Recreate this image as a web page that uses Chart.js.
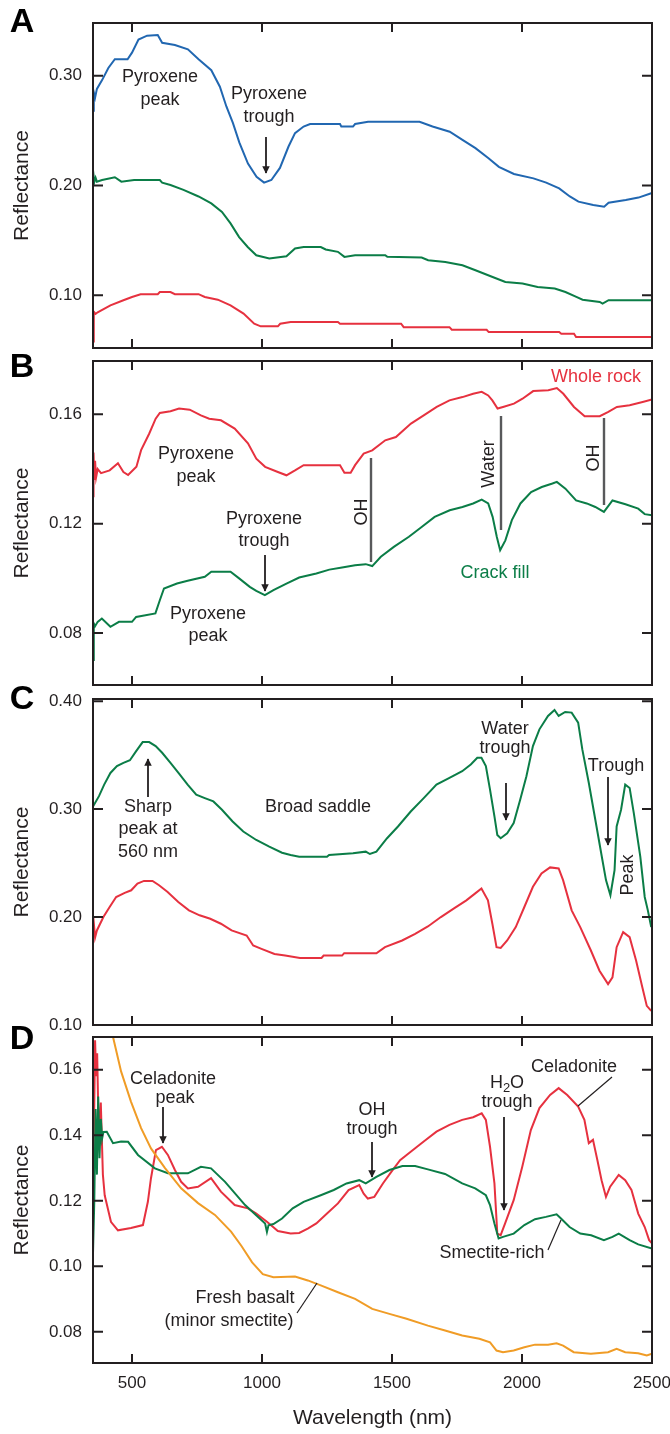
<!DOCTYPE html>
<html lang="en">
<head>
<meta charset="UTF-8">
<title>Reflectance spectra</title>
<script src="https://cdn.jsdelivr.net/npm/chart.js"></script>
<style>
  body { margin: 0; background: #fff; font-family: "Liberation Sans", Arial, sans-serif; }
  #wrap { position: relative; width: 670px; height: 1434px; overflow: hidden; }
  canvas { position: absolute; left: 0; }
  .lbl { position: absolute; transform: translate(-50%, -50%); font-size: 18px; color: #231f20; white-space: nowrap; line-height: 1; z-index: 5; }
  .rot { transform: translate(-50%, -50%) rotate(-90deg); }
  .letter { position: absolute; transform: translate(-50%, -50%); font-weight: bold; font-size: 34px; color: #000; line-height: 1; }
  sub { font-size: 13px; vertical-align: -4px; line-height: 0; }
  svg { position: absolute; left: 0; top: 0; z-index: 4; }
</style>
</head>
<body>
<div id="wrap">
  <canvas id="chartA" width="670" height="345" style="top:13px"></canvas>
  <canvas id="chartB" width="670" height="344" style="top:351px"></canvas>
  <canvas id="chartC" width="670" height="346" style="top:689px"></canvas>
  <canvas id="chartD" width="670" height="407" style="top:1027px"></canvas>

  <div class="letter" style="left:22px;top:20px">A</div>
  <div class="letter" style="left:22px;top:365px">B</div>
  <div class="letter" style="left:22px;top:697px">C</div>
  <div class="letter" style="left:22px;top:1037px">D</div>

  <!-- A -->
  <div class="lbl" style="left:160px;top:76px">Pyroxene</div>
  <div class="lbl" style="left:160px;top:99px">peak</div>
  <div class="lbl" style="left:269px;top:93px">Pyroxene</div>
  <div class="lbl" style="left:269px;top:116px">trough</div>
  <!-- B -->
  <div class="lbl" style="left:596px;top:376px;color:#e6313f">Whole rock</div>
  <div class="lbl" style="left:196px;top:453px">Pyroxene</div>
  <div class="lbl" style="left:196px;top:476px">peak</div>
  <div class="lbl" style="left:264px;top:518px">Pyroxene</div>
  <div class="lbl" style="left:264px;top:540px">trough</div>
  <div class="lbl" style="left:208px;top:613px">Pyroxene</div>
  <div class="lbl" style="left:208px;top:635px">peak</div>
  <div class="lbl rot" style="left:361px;top:512px">OH</div>
  <div class="lbl rot" style="left:488px;top:464px">Water</div>
  <div class="lbl rot" style="left:593px;top:458px">OH</div>
  <div class="lbl" style="left:495px;top:572px;color:#0b7d47">Crack fill</div>
  <!-- C -->
  <div class="lbl" style="left:148px;top:806px">Sharp</div>
  <div class="lbl" style="left:148px;top:828px">peak at</div>
  <div class="lbl" style="left:148px;top:851px">560 nm</div>
  <div class="lbl" style="left:318px;top:806px">Broad saddle</div>
  <div class="lbl" style="left:505px;top:728px">Water</div>
  <div class="lbl" style="left:505px;top:747px">trough</div>
  <div class="lbl" style="left:616px;top:765px">Trough</div>
  <div class="lbl rot" style="left:627px;top:875px">Peak</div>
  <!-- D -->
  <div class="lbl" style="left:173px;top:1078px">Celadonite</div>
  <div class="lbl" style="left:175px;top:1097px">peak</div>
  <div class="lbl" style="left:372px;top:1109px">OH</div>
  <div class="lbl" style="left:372px;top:1128px">trough</div>
  <div class="lbl" style="left:507px;top:1082px">H<sub>2</sub>O</div>
  <div class="lbl" style="left:507px;top:1101px">trough</div>
  <div class="lbl" style="left:574px;top:1066px">Celadonite</div>
  <div class="lbl" style="left:492px;top:1252px">Smectite-rich</div>
  <div class="lbl" style="left:245px;top:1297px">Fresh basalt</div>
  <div class="lbl" style="left:229px;top:1320px">(minor smectite)</div>

  <svg id="marks" width="670" height="1434"></svg>
</div>

<script>
  // ---- data (wavelength in nm, reflectance) ----
  const xTicks = [500, 1000, 1500, 2000, 2500];

  // panel A
  const aTicks = [0.10, 0.20, 0.30];
  const aBlueNm = [350, 353, 358, 365, 385, 409, 434, 483, 500, 525, 558, 599, 616, 665, 715, 756, 805, 838, 863, 888, 913, 946, 979, 1008, 1036, 1069, 1102, 1127, 1160, 1185, 1300, 1305, 1350, 1358, 1408, 1606, 1656, 1722, 1771, 1821, 1870, 1911, 1969, 2044, 2093, 2143, 2184, 2217, 2274, 2316, 2333, 2399, 2448, 2497];
  const aBlueR = [0.268, 0.285, 0.280, 0.288, 0.296, 0.307, 0.315, 0.315, 0.321, 0.333, 0.3365, 0.337, 0.330, 0.328, 0.324, 0.315, 0.305, 0.290, 0.272, 0.257, 0.239, 0.220, 0.208, 0.2026, 0.205, 0.216, 0.2355, 0.2477, 0.2537, 0.256, 0.256, 0.2537, 0.2537, 0.256, 0.258, 0.258, 0.2537, 0.249, 0.2415, 0.234, 0.225, 0.217, 0.2105, 0.2065, 0.2026, 0.1974, 0.190, 0.1853, 0.1822, 0.1807, 0.1843, 0.1867, 0.189, 0.193];
  const aGreenNm = [350, 355, 360, 365, 385, 434, 459, 508, 607, 616, 648, 698, 756, 805, 846, 879, 912, 945, 978, 1028, 1094, 1127, 1160, 1226, 1245, 1292, 1317, 1358, 1474, 1482, 1614, 1639, 1705, 1771, 1821, 1887, 1936, 2002, 2060, 2126, 2167, 2209, 2233, 2299, 2310, 2333, 2500];
  const aGreenR = [0.214, 0.203, 0.207, 0.2035, 0.205, 0.2075, 0.2035, 0.205, 0.205, 0.2026, 0.2005, 0.196, 0.190, 0.1837, 0.176, 0.1655, 0.153, 0.144, 0.1365, 0.1335, 0.1356, 0.1426, 0.144, 0.144, 0.1417, 0.1396, 0.135, 0.1365, 0.1365, 0.135, 0.1344, 0.132, 0.1304, 0.1274, 0.1228, 0.1167, 0.1122, 0.1107, 0.1076, 0.1061, 0.103, 0.0985, 0.096, 0.094, 0.0924, 0.0955, 0.0955];
  const aRedNm = [350, 353, 360, 368, 417, 467, 500, 533, 599, 607, 648, 665, 756, 780, 830, 879, 929, 970, 995, 1061, 1070, 1110, 1292, 1300, 1535, 1545, 1721, 1730, 1864, 1872, 2143, 2151, 2200, 2208, 2500];
  const aRedR = [0.058, 0.085, 0.083, 0.0845, 0.0909, 0.0955, 0.0985, 0.101, 0.101, 0.103, 0.103, 0.101, 0.101, 0.0985, 0.096, 0.0909, 0.0833, 0.0741, 0.0717, 0.0717, 0.0741, 0.0756, 0.0756, 0.0741, 0.0741, 0.071, 0.071, 0.0686, 0.0686, 0.0665, 0.0665, 0.065, 0.065, 0.062, 0.062];

  // panel B
  const bTicks = [0.08, 0.12, 0.16];
  const bRockNm = [350, 352, 355, 358, 362, 368, 381, 414, 446, 467, 485, 517, 535, 566, 591, 607, 648, 681, 722, 765, 797, 842, 895, 946, 978, 1012, 1061, 1094, 1127, 1160, 1300, 1317, 1341, 1358, 1391, 1424, 1474, 1515, 1573, 1622, 1672, 1721, 1771, 1812, 1845, 1870, 1886, 1906, 1927, 1969, 2002, 2043, 2101, 2134, 2159, 2200, 2241, 2299, 2332, 2365, 2414, 2464, 2500];
  const bRockR = [0.130, 0.146, 0.136, 0.143, 0.137, 0.140, 0.1385, 0.1395, 0.1421, 0.1389, 0.1378, 0.1408, 0.1469, 0.1529, 0.1584, 0.1605, 0.1611, 0.1621, 0.1617, 0.1596, 0.1584, 0.1578, 0.1548, 0.1494, 0.1438, 0.1408, 0.1389, 0.1377, 0.1395, 0.1414, 0.1414, 0.1386, 0.1386, 0.1414, 0.1456, 0.1468, 0.1505, 0.1517, 0.1566, 0.1596, 0.1627, 0.1651, 0.1663, 0.1675, 0.1682, 0.1669, 0.1651, 0.1621, 0.1627, 0.1639, 0.1657, 0.1685, 0.1688, 0.1696, 0.1675, 0.1627, 0.1593, 0.1593, 0.1609, 0.1627, 0.1633, 0.1645, 0.1654];
  const bCrackNm = [350, 353, 358, 368, 384, 417, 450, 500, 516, 590, 607, 623, 673, 714, 780, 805, 879, 912, 953, 978, 1011, 1044, 1094, 1143, 1209, 1259, 1308, 1358, 1399, 1424, 1457, 1507, 1565, 1614, 1664, 1722, 1771, 1812, 1845, 1870, 1887, 1903, 1916, 1936, 1961, 1994, 2035, 2076, 2117, 2134, 2167, 2208, 2249, 2282, 2315, 2348, 2398, 2447, 2472, 2500];
  const bCrackR = [0.0701, 0.0835, 0.0825, 0.0841, 0.0853, 0.0823, 0.0841, 0.0841, 0.0859, 0.0872, 0.0920, 0.0963, 0.0981, 0.0991, 0.1006, 0.1024, 0.1024, 0.100, 0.0969, 0.0954, 0.0939, 0.0957, 0.0981, 0.1003, 0.1018, 0.1032, 0.1040, 0.1048, 0.1052, 0.1045, 0.1079, 0.1115, 0.1152, 0.1188, 0.1225, 0.1249, 0.1261, 0.1274, 0.1288, 0.1274, 0.1225, 0.1152, 0.1103, 0.1139, 0.1213, 0.1274, 0.1316, 0.1334, 0.1347, 0.1353, 0.1328, 0.1285, 0.1274, 0.1261, 0.1243, 0.1285, 0.1271, 0.1255, 0.1235, 0.1231];

  // panel C
  const cTicks = [0.10, 0.20, 0.30, 0.40];
  const cGreenNm = [350, 373, 393, 417, 442, 467, 492, 516, 541, 566, 591, 616, 648, 681, 714, 747, 780, 813, 846, 887, 928, 978, 1028, 1077, 1110, 1143, 1250, 1258, 1350, 1399, 1415, 1440, 1481, 1523, 1572, 1622, 1671, 1721, 1770, 1803, 1828, 1844, 1861, 1877, 1894, 1905, 1918, 1943, 1968, 1993, 2017, 2042, 2067, 2100, 2125, 2141, 2166, 2191, 2216, 2232, 2257, 2282, 2307, 2323, 2340, 2356, 2364, 2381, 2397, 2414, 2430, 2455, 2472, 2484, 2497];
  const cGreenR = [0.3025, 0.312, 0.3227, 0.3335, 0.3398, 0.3429, 0.3453, 0.3537, 0.3621, 0.3621, 0.3584, 0.3522, 0.3429, 0.3329, 0.3227, 0.3134, 0.3102, 0.3071, 0.2994, 0.2885, 0.2792, 0.2714, 0.2652, 0.2596, 0.2575, 0.2559, 0.2559, 0.2575, 0.259, 0.2606, 0.2584, 0.2606, 0.273, 0.2839, 0.2978, 0.3102, 0.3227, 0.3289, 0.3351, 0.3413, 0.3475, 0.3475, 0.3398, 0.318, 0.2932, 0.2761, 0.273, 0.2776, 0.287, 0.3087, 0.3304, 0.3584, 0.3739, 0.3863, 0.3919, 0.3863, 0.39, 0.3894, 0.3801, 0.3553, 0.3242, 0.2901, 0.2559, 0.2342, 0.2202, 0.2435, 0.2839, 0.2994, 0.3227, 0.3196, 0.2963, 0.2559, 0.2186, 0.2062, 0.1907];
  const cRedNm = [350, 354, 358, 365, 390, 414, 439, 472, 497, 521, 546, 579, 604, 637, 678, 719, 760, 801, 842, 883, 941, 966, 998, 1048, 1089, 1146, 1229, 1237, 1308, 1316, 1440, 1473, 1539, 1589, 1638, 1688, 1737, 1786, 1819, 1844, 1869, 1886, 1902, 1918, 1943, 1976, 2009, 2042, 2075, 2108, 2141, 2158, 2191, 2224, 2265, 2298, 2331, 2348, 2364, 2389, 2414, 2439, 2463, 2480, 2497];
  const cRedR = [0.1845, 0.192, 0.181, 0.1876, 0.200, 0.2093, 0.2186, 0.2224, 0.2248, 0.2311, 0.2335, 0.2335, 0.2295, 0.2233, 0.214, 0.2062, 0.2016, 0.1984, 0.1938, 0.1876, 0.1829, 0.1736, 0.1705, 0.1658, 0.1643, 0.1621, 0.1621, 0.1643, 0.1643, 0.1665, 0.1665, 0.1721, 0.1783, 0.1845, 0.1913, 0.200, 0.2078, 0.2155, 0.2217, 0.2264, 0.2155, 0.1938, 0.1721, 0.1714, 0.1783, 0.1907, 0.2093, 0.228, 0.2404, 0.246, 0.245, 0.2342, 0.2062, 0.1907, 0.169, 0.1503, 0.1379, 0.1441, 0.1721, 0.186, 0.1814, 0.1596, 0.1348, 0.1177, 0.113];

  // panel D
  const dTicks = [0.08, 0.10, 0.12, 0.14, 0.16];
  const dCelNm = [350, 355, 358, 362, 366, 372, 380, 388, 395, 419, 446, 496, 542, 561, 573, 592, 615, 638, 665, 689, 715, 754, 804, 842, 895, 946, 978, 1019, 1061, 1110, 1143, 1176, 1209, 1250, 1292, 1333, 1374, 1391, 1407, 1432, 1465, 1498, 1531, 1572, 1622, 1671, 1721, 1770, 1812, 1845, 1861, 1877, 1894, 1905, 1918, 1935, 1968, 2001, 2034, 2067, 2108, 2141, 2174, 2216, 2240, 2257, 2273, 2290, 2306, 2323, 2339, 2372, 2397, 2421, 2447, 2472, 2489, 2500];
  const dCelR = [0.120, 0.150, 0.169, 0.158, 0.165, 0.140, 0.150, 0.128, 0.1217, 0.1136, 0.111, 0.1117, 0.1126, 0.1197, 0.1269, 0.1355, 0.1365, 0.134, 0.1294, 0.1258, 0.1238, 0.1243, 0.1269, 0.1228, 0.1187, 0.1177, 0.1161, 0.1136, 0.1108, 0.110, 0.1102, 0.1115, 0.1131, 0.1161, 0.1192, 0.1233, 0.1248, 0.1222, 0.1207, 0.1212, 0.1253, 0.1289, 0.1324, 0.135, 0.1381, 0.1411, 0.1432, 0.1447, 0.1455, 0.1467, 0.1447, 0.1365, 0.1253, 0.110, 0.1095, 0.1131, 0.1202, 0.1304, 0.1416, 0.1483, 0.1523, 0.1544, 0.1523, 0.1488, 0.1447, 0.1376, 0.1386, 0.1324, 0.1263, 0.1212, 0.1243, 0.1279, 0.1263, 0.1233, 0.1161, 0.112, 0.108, 0.107];
  const dSmecNm = [350, 355, 360, 365, 370, 375, 380, 385, 390, 403, 427, 458, 485, 523, 588, 638, 715, 765, 804, 858, 935, 1012, 1019, 1025, 1044, 1077, 1118, 1160, 1226, 1276, 1325, 1374, 1399, 1440, 1490, 1540, 1589, 1638, 1704, 1770, 1820, 1861, 1877, 1894, 1910, 1927, 1968, 2009, 2050, 2092, 2133, 2150, 2183, 2224, 2266, 2315, 2348, 2372, 2414, 2447, 2500];
  const dSmecR = [0.104, 0.120, 0.148, 0.128, 0.1518, 0.133, 0.145, 0.139, 0.141, 0.1411, 0.1376, 0.1381, 0.138, 0.134, 0.1299, 0.1284, 0.1284, 0.1304, 0.1299, 0.1258, 0.1187, 0.1131, 0.1105, 0.1125, 0.1129, 0.1146, 0.1177, 0.1197, 0.1217, 0.1233, 0.1253, 0.1263, 0.1253, 0.1273, 0.1294, 0.1306, 0.1306, 0.1296, 0.1282, 0.1253, 0.1238, 0.1217, 0.1187, 0.1131, 0.1085, 0.109, 0.110, 0.1126, 0.1144, 0.1151, 0.1159, 0.1146, 0.112, 0.110, 0.1095, 0.108, 0.109, 0.110, 0.108, 0.1067, 0.1054];
  const dBasaltNm = [350, 400, 427, 458, 496, 535, 573, 627, 689, 754, 819, 881, 921, 962, 1003, 1044, 1127, 1176, 1226, 1292, 1358, 1424, 1490, 1556, 1638, 1704, 1770, 1836, 1877, 1902, 1927, 1968, 2009, 2050, 2100, 2133, 2158, 2199, 2265, 2331, 2364, 2397, 2447, 2480, 2500];
  const dBasaltR = [0.195, 0.178, 0.170, 0.1595, 0.1503, 0.1422, 0.136, 0.130, 0.1238, 0.1193, 0.1157, 0.1106, 0.1062, 0.1012, 0.0976, 0.0967, 0.0969, 0.0957, 0.0942, 0.0921, 0.0901, 0.087, 0.0855, 0.084, 0.0819, 0.0804, 0.0789, 0.0779, 0.0768, 0.0743, 0.0738, 0.0743, 0.0753, 0.0761, 0.0761, 0.0765, 0.0758, 0.0738, 0.0733, 0.0738, 0.0748, 0.0738, 0.0735, 0.0728, 0.0733];

  const BLUE = '#2167b1', GREEN = '#0b7d47', RED = '#e6313f', ORANGE = '#f09c26', INK = '#231f20';
  const FONT = '"Liberation Sans", Arial, sans-serif';
  Chart.defaults.font.family = FONT;
  Chart.defaults.color = INK;

  function series(nm, r, color) {
    return {
      data: nm.map((x, i) => ({ x: x, y: r[i] })),
      borderColor: color, borderWidth: 2, pointRadius: 0, tension: 0, fill: false
    };
  }

  // box around plot with inward ticks on all four sides
  const framePlugin = {
    id: 'frame',
    afterDraw(chart) {
      const { ctx, chartArea: a, scales } = chart;
      ctx.save();
      ctx.strokeStyle = INK;
      ctx.lineWidth = 2;
      ctx.strokeRect(a.left, a.top, a.right - a.left, a.bottom - a.top);
      ctx.beginPath();
      scales.x.ticks.forEach(t => {
        const px = scales.x.getPixelForValue(t.value);
        ctx.moveTo(px, a.top); ctx.lineTo(px, a.top + 9);
        ctx.moveTo(px, a.bottom); ctx.lineTo(px, a.bottom - 9);
      });
      scales.y.ticks.forEach(t => {
        const py = scales.y.getPixelForValue(t.value);
        ctx.moveTo(a.left, py); ctx.lineTo(a.left + 10, py);
        ctx.moveTo(a.right, py); ctx.lineTo(a.right - 10, py);
      });
      ctx.stroke();
      ctx.restore();
    }
  };

  function makePanel(id, yMin, yMax, yTicks, datasets, isBottom) {
    return new Chart(document.getElementById(id), {
      type: 'line',
      data: { datasets: datasets },
      plugins: [framePlugin],
      options: {
        responsive: false,
        animation: false,
        events: [],
        layout: { padding: { top: 10, right: 18, bottom: isBottom ? 0 : 10, left: 0 } },
        plugins: { legend: { display: false }, tooltip: { enabled: false } },
        scales: {
          x: {
            type: 'linear', min: 350, max: 2500,
            afterBuildTicks: s => { s.ticks = xTicks.map(v => ({ value: v })); },
            grid: { display: false }, border: { display: false },
            ticks: { display: isBottom, font: { size: 17 }, color: INK, padding: 2, maxRotation: 0, autoSkip: false, callback: v => String(v) },
            title: { display: isBottom, text: 'Wavelength (nm)', font: { size: 21 }, color: INK, padding: { top: 0, bottom: 3 } },
            afterFit: s => { s.height = isBottom ? 71 : 0; s.paddingLeft = 0; s.paddingRight = 0; }
          },
          y: {
            min: yMin, max: yMax,
            afterBuildTicks: s => { s.ticks = yTicks.map(v => ({ value: v })); },
            grid: { display: false }, border: { display: false },
            ticks: { font: { size: 17 }, color: INK, padding: 3, callback: v => Number(v).toFixed(2) },
            title: { display: true, text: 'Reflectance', font: { size: 21 }, color: INK, padding: { top: 10, bottom: 0 } },
            afterFit: s => { s.width = 93; s.paddingTop = 0; s.paddingBottom = 0; }
          }
        }
      }
    });
  }

  makePanel('chartA', 0.052, 0.348, aTicks, [
    series(aBlueNm, aBlueR, BLUE),
    series(aGreenNm, aGreenR, GREEN),
    series(aRedNm, aRedR, RED)
  ], false);

  makePanel('chartB', 0.061, 0.1795, bTicks, [
    series(bRockNm, bRockR, RED),
    series(bCrackNm, bCrackR, GREEN)
  ], false);

  makePanel('chartC', 0.10, 0.402, cTicks, [
    series(cGreenNm, cGreenR, GREEN),
    series(cRedNm, cRedR, RED)
  ], false);

  makePanel('chartD', 0.0705, 0.170, dTicks, [
    series(dBasaltNm, dBasaltR, ORANGE),
    series(dSmecNm, dSmecR, GREEN),
    series(dCelNm, dCelR, RED)
  ], true);

  // arrows, callout bars and leader lines
  const svg = document.getElementById('marks');
  const NS = 'http://www.w3.org/2000/svg';
  const defs = document.createElementNS(NS, 'defs');
  defs.innerHTML = '<marker id="head" viewBox="0 0 10 10" refX="9" refY="5" markerWidth="4.2" markerHeight="5" orient="auto" markerUnits="strokeWidth"><path d="M0,0 L10,5 L0,10 z" fill="' + INK + '"/></marker>';
  svg.appendChild(defs);

  function seg(x1, y1, x2, y2, color, w, arrow) {
    const l = document.createElementNS(NS, 'line');
    l.setAttribute('x1', x1); l.setAttribute('y1', y1);
    l.setAttribute('x2', x2); l.setAttribute('y2', y2);
    l.setAttribute('stroke', color); l.setAttribute('stroke-width', w);
    if (arrow) l.setAttribute('marker-end', 'url(#head)');
    svg.appendChild(l);
  }

  const arrows = [[266, 137, 266, 173], [265, 555, 265, 591], [148, 797, 148, 759], [506, 783, 506, 820],
    [608, 777, 608, 845], [163, 1107, 163, 1143], [372, 1142, 372, 1177], [504, 1117, 504, 1210]];
  arrows.forEach(a => seg(a[0], a[1], a[2], a[3], INK, 1.8, true));

  [[371, 458, 371, 562], [501, 416, 501, 530], [604, 418, 604, 505]]
    .forEach(a => seg(a[0], a[1], a[2], a[3], '#58595b', 2.4, false));

  [[612, 1077, 578, 1106], [548, 1250, 561, 1220], [297, 1313, 317, 1283]]
    .forEach(a => seg(a[0], a[1], a[2], a[3], INK, 1.2, false));
</script>
</body>
</html>
